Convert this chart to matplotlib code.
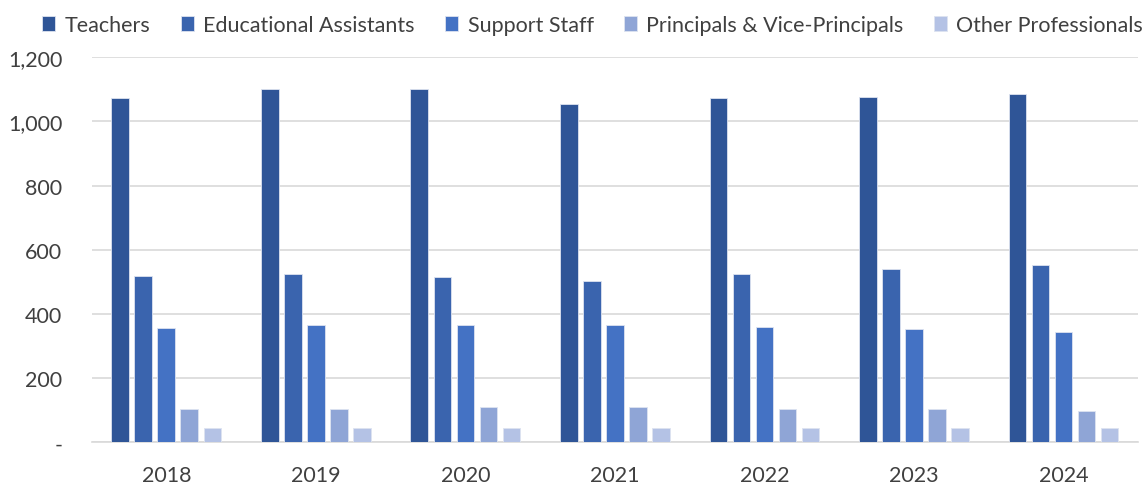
import matplotlib
matplotlib.use("Agg")
import matplotlib.pyplot as plt
import numpy as np
from matplotlib.ticker import FuncFormatter

plt.rcParams['font.family'] = ['Lato', 'DejaVu Sans']

years = ["2018", "2019", "2020", "2021", "2022", "2023", "2024"]
teachers = [1072, 1100, 1100, 1053, 1072, 1076, 1084]
educational_assistants = [519, 524, 516, 502, 524, 540, 552]
support_staff = [356, 364, 364, 364, 360, 352, 345]
principals = [105, 105, 109, 109, 105, 105, 97]
other_professionals = [45, 45, 45, 45, 45, 45, 45]

series_names = ["Teachers", "Educational Assistants", "Support Staff",
                "Principals & Vice-Principals", "Other Professionals"]
series_values = [teachers, educational_assistants, support_staff,
                 principals, other_professionals]
colors = ["#2F5597", "#3A64AE", "#4472C4", "#8FA5D6", "#B4C2E5"]

fig = plt.figure(figsize=(11.44, 4.85), dpi=100)
ax = fig.add_axes([0.080, 0.086, 0.915, 0.794])

x = np.arange(len(years))
slot = 0.154
width = 0.118
for i, (name, vals, col) in enumerate(zip(series_names, series_values, colors)):
    offs = (i - 2) * slot
    ax.bar(x + offs, vals, width=width, color=col, label=name,
           edgecolor="#DDE3F0", linewidth=0.6, zorder=3)

ax.set_xlim(-0.5, len(years) - 0.5)
ax.set_ylim(0, 1200)
ax.set_yticks(np.arange(0, 1201, 200))
ax.yaxis.set_major_formatter(FuncFormatter(lambda v, p: "-" if v == 0 else f"{int(v):,}"))
ax.set_xticks(x)
ax.set_xticklabels(years)

ax.grid(axis="y", color="#D9D9D9", linewidth=1.2, zorder=0)
for s in ["top", "right", "left"]:
    ax.spines[s].set_visible(False)
ax.spines["bottom"].set_color("#D9D9D9")
ax.spines["bottom"].set_linewidth(1.2)
ax.tick_params(axis="both", length=0, labelsize=15.5, colors="#404040")
ax.tick_params(axis="x", pad=16)
ax.tick_params(axis="y", pad=21)

fig.legend(loc="upper center", bbox_to_anchor=(0.518, 1.007), ncol=5, frameon=False,
           fontsize=15.5, handlelength=0.6, handleheight=0.65, handletextpad=0.45,
           columnspacing=1.4, labelcolor="#404040")

fig.savefig("out.png", dpi=100)
